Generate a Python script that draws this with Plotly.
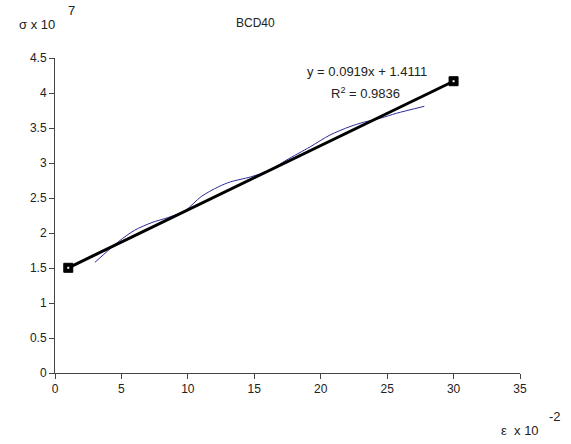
import plotly.graph_objects as go

# Measured stress-strain curve (strain in 1e-2, stress in 1e7)
strain = [3.0, 4.8, 6.0, 7.3, 8.5, 9.8, 11.0, 12.3, 13.2, 14.7, 16.2, 17.4,
          19.2, 20.7, 22.2, 23.2, 24.5, 25.7, 27.8]
stress = [1.58, 1.88, 2.04, 2.15, 2.22, 2.32, 2.52, 2.66, 2.73, 2.80, 2.90, 3.04,
          3.23, 3.40, 3.52, 3.58, 3.64, 3.71, 3.81]

# Linear trend: y = slope * x + intercept
slope = 0.0919
intercept = 1.4111
r_squared = 0.9836
trend_x = [1, 30]
trend_y = [slope * x + intercept for x in trend_x]

x_ticks = [0, 5, 10, 15, 20, 25, 30, 35]
y_ticks = [0, 0.5, 1, 1.5, 2, 2.5, 3, 3.5, 4, 4.5]

font = dict(family="Arial, Liberation Sans, sans-serif", size=12, color="#222222")

fig = go.Figure()
fig.add_trace(go.Scatter(
    x=strain, y=stress, mode="lines",
    line=dict(color="#2a2a9a", width=1, shape="spline", smoothing=0.8),
    showlegend=False, hoverinfo="skip",
))
fig.add_trace(go.Scatter(
    x=trend_x, y=trend_y, mode="lines+markers",
    line=dict(color="black", width=3),
    marker=dict(symbol="square", size=9, color="black",
                line=dict(color="black", width=1)),
    showlegend=False, hoverinfo="skip",
))
# small white centre on the end markers
fig.add_trace(go.Scatter(
    x=trend_x, y=trend_y, mode="markers",
    marker=dict(symbol="square", size=2, color="white", line=dict(width=0)),
    showlegend=False, hoverinfo="skip",
))

fig.update_layout(
    width=571, height=444,
    margin=dict(l=55, r=51, t=58, b=71),
    paper_bgcolor="white", plot_bgcolor="white",
    font=font,
    xaxis=dict(range=[0, 35], tickvals=x_ticks, ticks="outside", ticklen=5,
               tickcolor="#444", showline=True, linecolor="#444", linewidth=1,
               showgrid=False, zeroline=False, tickfont=font),
    yaxis=dict(range=[0, 4.5], tickvals=y_ticks, ticks="outside", ticklen=5,
               tickcolor="#444", showline=True, linecolor="#444", linewidth=1,
               showgrid=False, zeroline=False, tickfont=font),
)

# Annotations positioned in pixels, converted to paper fractions
ML, MR, MT, MB = 55, 51, 58, 71
pw = 571 - ML - MR
ph = 444 - MT - MB


def px_note(text, x, y, xanchor="left", size=12):
    fig.add_annotation(
        text=text, xref="paper", yref="paper",
        x=(x - ML) / pw, y=(444 - MB - y) / ph,
        showarrow=False, xanchor=xanchor, yanchor="middle",
        font=dict(family="Arial, Liberation Sans, sans-serif", size=size,
                  color="#222222"),
    )


px_note("BCD40", 255, 23, "center", 12)
px_note("y = %.4fx + %.4f" % (slope, intercept), 367, 72, "center", 13)
px_note("R<sup>2</sup> = %.4f" % r_squared, 365, 93, "center", 13)
px_note("σ x 10", 37, 25, "center", 13)
px_note("7", 66, 10, "left", 13)
px_note("ε  x 10", 520, 430, "center", 13)
px_note("-2", 547, 416, "left", 13)

fig.write_html("out.html")
